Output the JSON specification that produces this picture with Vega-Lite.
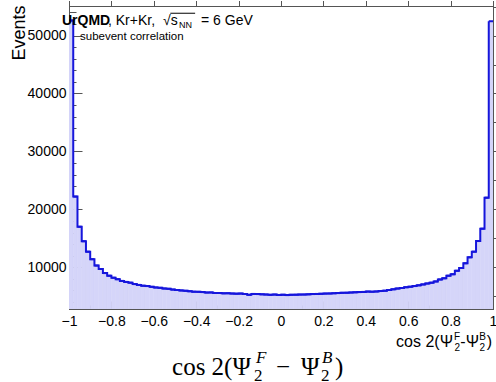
{
  "$schema": "https://vega.github.io/schema/vega-lite/v6.json",
  "width": 424,
  "height": 303,
  "autosize": {"type": "none"},
  "padding": {"left": 69, "top": 6, "right": 3, "bottom": 73},
  "background": "white",
  "config": {
    "aria": false,
    "view": {"stroke": "#555", "strokeWidth": 1},
    "font": "Liberation Sans",
    "axis": {"grid": false, "domainColor": "#555", "tickColor": "#555", "labelColor": "black", "titleColor": "black", "titleFontWeight": "normal"}
  },
  "data": {"values": [
    {"lo": -1, "hi": -0.98, "n": 52600},
    {"lo": -0.98, "hi": -0.96, "n": 22200},
    {"lo": -0.96, "hi": -0.94, "n": 17000},
    {"lo": -0.94, "hi": -0.92, "n": 14500},
    {"lo": -0.92, "hi": -0.9, "n": 12700},
    {"lo": -0.9, "hi": -0.88, "n": 11400},
    {"lo": -0.88, "hi": -0.86, "n": 10300},
    {"lo": -0.86, "hi": -0.84, "n": 9700},
    {"lo": -0.84, "hi": -0.82, "n": 9000},
    {"lo": -0.82, "hi": -0.8, "n": 8550},
    {"lo": -0.8, "hi": -0.78, "n": 8200},
    {"lo": -0.78, "hi": -0.76, "n": 7950},
    {"lo": -0.76, "hi": -0.74, "n": 7650},
    {"lo": -0.74, "hi": -0.72, "n": 7480},
    {"lo": -0.72, "hi": -0.7, "n": 7350},
    {"lo": -0.7, "hi": -0.68, "n": 7100},
    {"lo": -0.68, "hi": -0.66, "n": 6960},
    {"lo": -0.66, "hi": -0.64, "n": 6820},
    {"lo": -0.64, "hi": -0.62, "n": 6760},
    {"lo": -0.62, "hi": -0.6, "n": 6620},
    {"lo": -0.6, "hi": -0.58, "n": 6520},
    {"lo": -0.58, "hi": -0.56, "n": 6450},
    {"lo": -0.56, "hi": -0.54, "n": 6340},
    {"lo": -0.54, "hi": -0.52, "n": 6280},
    {"lo": -0.52, "hi": -0.5, "n": 6150},
    {"lo": -0.5, "hi": -0.48, "n": 6080},
    {"lo": -0.48, "hi": -0.46, "n": 6010},
    {"lo": -0.46, "hi": -0.44, "n": 5940},
    {"lo": -0.44, "hi": -0.42, "n": 5870},
    {"lo": -0.42, "hi": -0.4, "n": 5790},
    {"lo": -0.4, "hi": -0.38, "n": 5760},
    {"lo": -0.38, "hi": -0.36, "n": 5720},
    {"lo": -0.36, "hi": -0.34, "n": 5640},
    {"lo": -0.34, "hi": -0.32, "n": 5660},
    {"lo": -0.32, "hi": -0.3, "n": 5560},
    {"lo": -0.3, "hi": -0.28, "n": 5560},
    {"lo": -0.28, "hi": -0.26, "n": 5500},
    {"lo": -0.26, "hi": -0.24, "n": 5520},
    {"lo": -0.24, "hi": -0.22, "n": 5470},
    {"lo": -0.22, "hi": -0.2, "n": 5450},
    {"lo": -0.2, "hi": -0.18, "n": 5460},
    {"lo": -0.18, "hi": -0.16, "n": 5390},
    {"lo": -0.16, "hi": -0.14, "n": 5250},
    {"lo": -0.14, "hi": -0.12, "n": 5400},
    {"lo": -0.12, "hi": -0.1, "n": 5380},
    {"lo": -0.1, "hi": -0.08, "n": 5330},
    {"lo": -0.08, "hi": -0.06, "n": 5300},
    {"lo": -0.06, "hi": -0.04, "n": 5240},
    {"lo": -0.04, "hi": -0.02, "n": 5290},
    {"lo": -0.02, "hi": 0, "n": 5230},
    {"lo": 0, "hi": 0.02, "n": 5260},
    {"lo": 0.02, "hi": 0.04, "n": 5200},
    {"lo": 0.04, "hi": 0.06, "n": 5250},
    {"lo": 0.06, "hi": 0.08, "n": 5270},
    {"lo": 0.08, "hi": 0.1, "n": 5290},
    {"lo": 0.1, "hi": 0.12, "n": 5300},
    {"lo": 0.12, "hi": 0.14, "n": 5330},
    {"lo": 0.14, "hi": 0.16, "n": 5380},
    {"lo": 0.16, "hi": 0.18, "n": 5400},
    {"lo": 0.18, "hi": 0.2, "n": 5420},
    {"lo": 0.2, "hi": 0.22, "n": 5460},
    {"lo": 0.22, "hi": 0.24, "n": 5480},
    {"lo": 0.24, "hi": 0.26, "n": 5520},
    {"lo": 0.26, "hi": 0.28, "n": 5550},
    {"lo": 0.28, "hi": 0.3, "n": 5590},
    {"lo": 0.3, "hi": 0.32, "n": 5610},
    {"lo": 0.32, "hi": 0.34, "n": 5650},
    {"lo": 0.34, "hi": 0.36, "n": 5680},
    {"lo": 0.36, "hi": 0.38, "n": 5720},
    {"lo": 0.38, "hi": 0.4, "n": 5750},
    {"lo": 0.4, "hi": 0.42, "n": 5800},
    {"lo": 0.42, "hi": 0.44, "n": 5790},
    {"lo": 0.44, "hi": 0.46, "n": 5830},
    {"lo": 0.46, "hi": 0.48, "n": 5900},
    {"lo": 0.48, "hi": 0.5, "n": 5960},
    {"lo": 0.5, "hi": 0.52, "n": 6080},
    {"lo": 0.52, "hi": 0.54, "n": 6200},
    {"lo": 0.54, "hi": 0.56, "n": 6330},
    {"lo": 0.56, "hi": 0.58, "n": 6420},
    {"lo": 0.58, "hi": 0.6, "n": 6560},
    {"lo": 0.6, "hi": 0.62, "n": 6650},
    {"lo": 0.62, "hi": 0.64, "n": 6760},
    {"lo": 0.64, "hi": 0.66, "n": 6880},
    {"lo": 0.66, "hi": 0.68, "n": 7050},
    {"lo": 0.68, "hi": 0.7, "n": 7200},
    {"lo": 0.7, "hi": 0.72, "n": 7350},
    {"lo": 0.72, "hi": 0.74, "n": 7560},
    {"lo": 0.74, "hi": 0.76, "n": 7900},
    {"lo": 0.76, "hi": 0.78, "n": 8100},
    {"lo": 0.78, "hi": 0.8, "n": 8550},
    {"lo": 0.8, "hi": 0.82, "n": 8800},
    {"lo": 0.82, "hi": 0.84, "n": 9400},
    {"lo": 0.84, "hi": 0.86, "n": 9880},
    {"lo": 0.86, "hi": 0.88, "n": 10690},
    {"lo": 0.88, "hi": 0.9, "n": 11720},
    {"lo": 0.9, "hi": 0.92, "n": 12700},
    {"lo": 0.92, "hi": 0.94, "n": 14530},
    {"lo": 0.94, "hi": 0.96, "n": 16670},
    {"lo": 0.96, "hi": 0.98, "n": 22020},
    {"lo": 0.98, "hi": 1, "n": 52470}
  ]},
  "resolve": {"axis": {"x": "independent", "y": "independent"}},
  "layer": [
    {
      "mark": {"type": "rect", "color": "#d5d5f9", "stroke": "#d5d5f9", "strokeWidth": 0.6, "clip": true},
      "encoding": {
        "x": {"field": "lo", "type": "quantitative",
          "scale": {"domain": [-1, 1], "nice": false, "zero": false},
          "axis": {
            "orient": "bottom",
            "values": [-1,-0.8,-0.6,-0.4,-0.2,0,0.2,0.4,0.6,0.8,1],
            "format": "~g",
            "labelOverlap": false, "labelFlush": false, "labelBound": false,
            "labelFontSize": 14, "labelPadding": 13,
            "tickSize": -8,
            "title": null
          }
        },
        "x2": {"field": "hi"},
        "y": {"field": "n", "type": "quantitative",
          "scale": {"domain": [2800, 55100], "nice": false, "zero": false},
          "axis": {
            "orient": "left",
            "values": [10000,20000,30000,40000,50000],
            "format": "d",
            "labelOverlap": false, "labelFontSize": 14, "labelPadding": 16,
            "tickSize": -13,
            "title": "Events", "titleFontSize": 18, "titleAngle": 270,
            "titleAlign": "right", "titleBaseline": "alphabetic",
            "titleX": -45, "titleY": -1
          }
        },
        "y2": {"datum": 2800}
      }
    },
    {
      "mark": {"type": "line", "interpolate": "step-after", "color": "#1616dc", "strokeWidth": 2, "clip": true},
      "encoding": {
        "x": {"field": "lo", "type": "quantitative",
          "axis": {
            "orient": "bottom",
            "values": [-0.95,-0.9,-0.85,-0.75,-0.7,-0.65,-0.55,-0.5,-0.45,-0.35,-0.3,-0.25,-0.15,-0.1,-0.05,0.05,0.1,0.15,0.25,0.3,0.35,0.45,0.5,0.55,0.65,0.7,0.75,0.85,0.9,0.95],
            "labels": false, "domain": false, "title": null, "tickSize": -4
          }
        },
        "y": {"field": "n", "type": "quantitative",
          "axis": {
            "orient": "left",
            "values": [4000,6000,8000,12000,14000,16000,18000,22000,24000,26000,28000,32000,34000,36000,38000,42000,44000,46000,48000,52000,54000],
            "labels": false, "domain": false, "title": null, "tickSize": -7
          }
        }
      }
    },
    {
      "mark": {"type": "rule", "color": "#1616dc", "strokeWidth": 2, "clip": true},
      "encoding": {
        "x": {"field": "lo", "type": "quantitative"},
        "x2": {"field": "hi"},
        "y": {"field": "n", "type": "quantitative"}
      }
    },
    {
      "data": {"values": [{"t": "UrQMD"}]},
      "mark": {"type": "text", "align": "left", "baseline": "alphabetic", "fontSize": 14, "fontWeight": "bold", "color": "black"},
      "encoding": {"text": {"field": "t"}, "x": {"datum": -1.033}, "y": {"datum": 51800}}
    },
    {
      "data": {"values": [{"t": ", Kr+Kr,"}]},
      "mark": {"type": "text", "align": "left", "baseline": "alphabetic", "fontSize": 14, "color": "black", "dx": 46},
      "encoding": {"text": {"field": "t"}, "x": {"datum": -1.033}, "y": {"datum": 51800}}
    },
    {
      "data": {"values": [{"t": "√s"}]},
      "mark": {"type": "text", "align": "left", "baseline": "alphabetic", "fontSize": 14, "color": "black", "dx": 101},
      "encoding": {"text": {"field": "t"}, "x": {"datum": -1.033}, "y": {"datum": 51800}}
    },
    {
      "data": {"values": [{}]},
      "mark": {"type": "rule", "color": "black", "strokeWidth": 1},
      "encoding": {"x": {"datum": -0.522}, "x2": {"datum": -0.405}, "y": {"datum": 53850}}
    },
    {
      "data": {"values": [{"t": "NN"}]},
      "mark": {"type": "text", "align": "left", "baseline": "alphabetic", "fontSize": 9, "color": "black", "dx": 117, "dy": 3},
      "encoding": {"text": {"field": "t"}, "x": {"datum": -1.033}, "y": {"datum": 51800}}
    },
    {
      "data": {"values": [{"t": "= 6 GeV"}]},
      "mark": {"type": "text", "align": "left", "baseline": "alphabetic", "fontSize": 14, "color": "black", "dx": 139},
      "encoding": {"text": {"field": "t"}, "x": {"datum": -1.033}, "y": {"datum": 51800}}
    },
    {
      "data": {"values": [{"t": "subevent correlation"}]},
      "mark": {"type": "text", "align": "left", "baseline": "alphabetic", "fontSize": 11.5, "color": "black"},
      "encoding": {"text": {"field": "t"}, "x": {"datum": -0.948}, "y": {"datum": 49200}}
    },
    {
      "data": {"values": [{"t": "cos 2(Ψ"}]},
      "mark": {"type": "text", "align": "right", "baseline": "alphabetic", "fontSize": 16, "color": "black", "dx": -40, "dy": 38},
      "encoding": {"text": {"field": "t"}, "x": {"datum": 1}, "y": {"datum": 2800}}
    },
    {
      "data": {"values": [{"t": "F"}]},
      "mark": {"type": "text", "align": "right", "baseline": "alphabetic", "fontSize": 10, "color": "black", "dx": -33, "dy": 31},
      "encoding": {"text": {"field": "t"}, "x": {"datum": 1}, "y": {"datum": 2800}}
    },
    {
      "data": {"values": [{"t": "2"}]},
      "mark": {"type": "text", "align": "right", "baseline": "alphabetic", "fontSize": 10, "color": "black", "dx": -33, "dy": 42},
      "encoding": {"text": {"field": "t"}, "x": {"datum": 1}, "y": {"datum": 2800}}
    },
    {
      "data": {"values": [{"t": "-Ψ"}]},
      "mark": {"type": "text", "align": "right", "baseline": "alphabetic", "fontSize": 16, "color": "black", "dx": -14, "dy": 38},
      "encoding": {"text": {"field": "t"}, "x": {"datum": 1}, "y": {"datum": 2800}}
    },
    {
      "data": {"values": [{"t": "B"}]},
      "mark": {"type": "text", "align": "right", "baseline": "alphabetic", "fontSize": 10, "color": "black", "dx": -7, "dy": 31},
      "encoding": {"text": {"field": "t"}, "x": {"datum": 1}, "y": {"datum": 2800}}
    },
    {
      "data": {"values": [{"t": "2"}]},
      "mark": {"type": "text", "align": "right", "baseline": "alphabetic", "fontSize": 10, "color": "black", "dx": -8, "dy": 42},
      "encoding": {"text": {"field": "t"}, "x": {"datum": 1}, "y": {"datum": 2800}}
    },
    {
      "data": {"values": [{"t": ")"}]},
      "mark": {"type": "text", "align": "right", "baseline": "alphabetic", "fontSize": 16, "color": "black", "dx": -1, "dy": 38},
      "encoding": {"text": {"field": "t"}, "x": {"datum": 1}, "y": {"datum": 2800}}
    },
    {
      "data": {"values": [{"t": "cos 2(Ψ"}]},
      "mark": {"type": "text", "align": "left", "baseline": "alphabetic", "font": "Liberation Serif", "fontSize": 25, "color": "black", "dy": 66},
      "encoding": {"text": {"field": "t"}, "x": {"datum": -0.514}, "y": {"datum": 2800}}
    },
    {
      "data": {"values": [{"t": "F"}]},
      "mark": {"type": "text", "align": "left", "baseline": "alphabetic", "font": "Liberation Serif", "fontStyle": "italic", "fontSize": 17, "color": "black", "dx": 84, "dy": 54},
      "encoding": {"text": {"field": "t"}, "x": {"datum": -0.514}, "y": {"datum": 2800}}
    },
    {
      "data": {"values": [{"t": "2"}]},
      "mark": {"type": "text", "align": "left", "baseline": "alphabetic", "font": "Liberation Serif", "fontSize": 17, "color": "black", "dx": 82, "dy": 72},
      "encoding": {"text": {"field": "t"}, "x": {"datum": -0.514}, "y": {"datum": 2800}}
    },
    {
      "data": {"values": [{"t": "−"}]},
      "mark": {"type": "text", "align": "left", "baseline": "alphabetic", "font": "Liberation Serif", "fontSize": 25, "color": "black", "dx": 104, "dy": 66},
      "encoding": {"text": {"field": "t"}, "x": {"datum": -0.514}, "y": {"datum": 2800}}
    },
    {
      "data": {"values": [{"t": "Ψ"}]},
      "mark": {"type": "text", "align": "left", "baseline": "alphabetic", "font": "Liberation Serif", "fontSize": 25, "color": "black", "dx": 129, "dy": 66},
      "encoding": {"text": {"field": "t"}, "x": {"datum": -0.514}, "y": {"datum": 2800}}
    },
    {
      "data": {"values": [{"t": "B"}]},
      "mark": {"type": "text", "align": "left", "baseline": "alphabetic", "font": "Liberation Serif", "fontStyle": "italic", "fontSize": 17, "color": "black", "dx": 150, "dy": 54},
      "encoding": {"text": {"field": "t"}, "x": {"datum": -0.514}, "y": {"datum": 2800}}
    },
    {
      "data": {"values": [{"t": "2"}]},
      "mark": {"type": "text", "align": "left", "baseline": "alphabetic", "font": "Liberation Serif", "fontSize": 17, "color": "black", "dx": 149, "dy": 72},
      "encoding": {"text": {"field": "t"}, "x": {"datum": -0.514}, "y": {"datum": 2800}}
    },
    {
      "data": {"values": [{"t": ")"}]},
      "mark": {"type": "text", "align": "left", "baseline": "alphabetic", "font": "Liberation Serif", "fontSize": 25, "color": "black", "dx": 163, "dy": 66},
      "encoding": {"text": {"field": "t"}, "x": {"datum": -0.514}, "y": {"datum": 2800}}
    }
  ]
}
